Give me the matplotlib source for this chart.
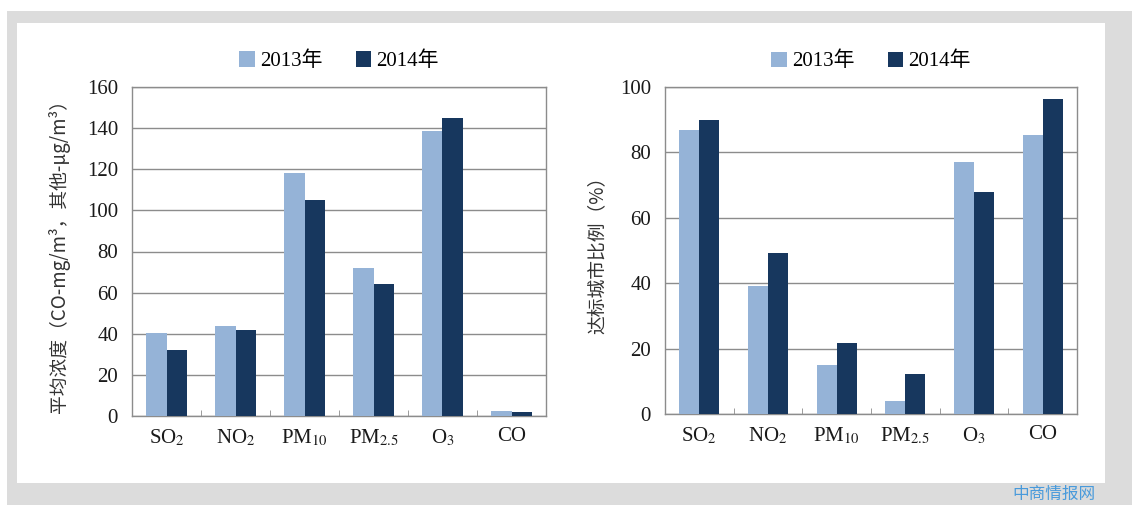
import matplotlib
import matplotlib.pyplot as plt
import numpy as np
from matplotlib.patches import Rectangle

matplotlib.use("Agg")

# ---------------------------------------------------------------------------
# Data
# ---------------------------------------------------------------------------
POLLUTANTS = ["SO$_2$", "NO$_2$", "PM$_{10}$", "PM$_{2.5}$", "O$_3$", "CO"]
YEARS = ["2013年", "2014年"]

# mean concentration (CO in mg/m3, others in ug/m3)
CONC_2013 = [40.4, 44.0, 118.0, 72.0, 138.5, 2.4]
CONC_2014 = [32.0, 42.0, 105.0, 64.0, 145.0, 1.8]

# share of cities meeting the standard (%)
SHARE_2013 = [87.0, 39.0, 15.0, 4.0, 77.0, 85.3]
SHARE_2014 = [89.8, 49.2, 21.7, 12.3, 67.8, 96.3]

LIGHT = "#95b3d7"
DARK = "#17375e"
GRID = "#8c8c8c"
TEXT_FONT = ["Liberation Serif", "Noto Sans CJK SC"]
CJK_FONT = ["Noto Sans CJK SC", "DejaVu Sans"]

plt.rcParams["font.family"] = TEXT_FONT
plt.rcParams["mathtext.fontset"] = "stix"

W, H = 1132, 505


def px_box(x0, y0, x1, y1):
    """Figure-fraction rect from pixel coords (top-left origin)."""
    return [x0 / W, 1 - y1 / H, (x1 - x0) / W, (y1 - y0) / H]


def draw_panel(ax, v13, v14, ymax, ylabel, labelpad):
    x = np.arange(len(POLLUTANTS))
    width = 0.29
    ax.bar(x - width / 2, v13, width, color=LIGHT, label=YEARS[0], zorder=3)
    ax.bar(x + width / 2, v14, width, color=DARK, label=YEARS[1], zorder=3)

    ax.set_xlim(-0.5, len(POLLUTANTS) - 0.5)
    ax.set_ylim(0, ymax)
    ax.set_yticks(np.arange(0, ymax + 1, 20))
    ax.yaxis.grid(True, color=GRID, linewidth=1.0, zorder=0)
    ax.set_axisbelow(True)

    ax.set_xticks(x)
    ax.set_xticklabels(POLLUTANTS)
    ax.set_xticks(np.arange(0.5, len(POLLUTANTS) - 0.5, 1.0), minor=True)
    ax.tick_params(axis="x", which="major", length=0, pad=8, labelsize=15, labelcolor="#1a1a1a")
    ax.tick_params(axis="x", which="minor", length=4, direction="in", color=GRID)
    ax.tick_params(axis="y", length=0, pad=10, labelsize=15, labelcolor="#1a1a1a")

    for spine in ax.spines.values():
        spine.set_color(GRID)
        spine.set_linewidth(1.0)

    ax.set_ylabel(ylabel, family=CJK_FONT, fontsize=13.5, color="#333333", labelpad=labelpad)

    ax.legend(
        loc="center",
        bbox_to_anchor=(0.5, 1.078),
        ncol=2,
        frameon=False,
        fontsize=15,
        handlelength=0.75,
        handleheight=0.75,
        handletextpad=0.25,
        columnspacing=1.6,
        borderaxespad=0,
    )


def main():
    fig = plt.figure(figsize=(W / 100, H / 100), dpi=100)
    fig.patch.set_facecolor("white")

    # grey frame and white card behind the two charts
    fig.patches.append(Rectangle((7 / W, 0), 1, 1 - 11 / H, transform=fig.transFigure,
                                 facecolor="#dcdcdc", edgecolor="none", zorder=-2))
    x0, y0, w, h = px_box(17, 23, 1105, 483)
    fig.patches.append(Rectangle((x0, y0), w, h, transform=fig.transFigure,
                                 facecolor="white", edgecolor="none", zorder=-1))

    ax_left = fig.add_axes(px_box(132, 87, 546, 416))
    ax_right = fig.add_axes(px_box(665, 87, 1077, 414))

    draw_panel(ax_left, CONC_2013, CONC_2014, 160, "平均浓度（CO-mg/m³，其他-μg/m³）", 12)
    draw_panel(ax_right, SHARE_2013, SHARE_2014, 100, "达标城市比例（%）", 8)

    # watermark in the grey strip below the card
    fig.text(1095 / W, 1 - 503 / H, "中商情报网", family=CJK_FONT, fontsize=12,
             color="#2f8fdb", va="bottom", ha="right", alpha=0.85)

    fig.savefig("out.png", dpi=100)
    plt.close(fig)


if __name__ == "__main__":
    main()
